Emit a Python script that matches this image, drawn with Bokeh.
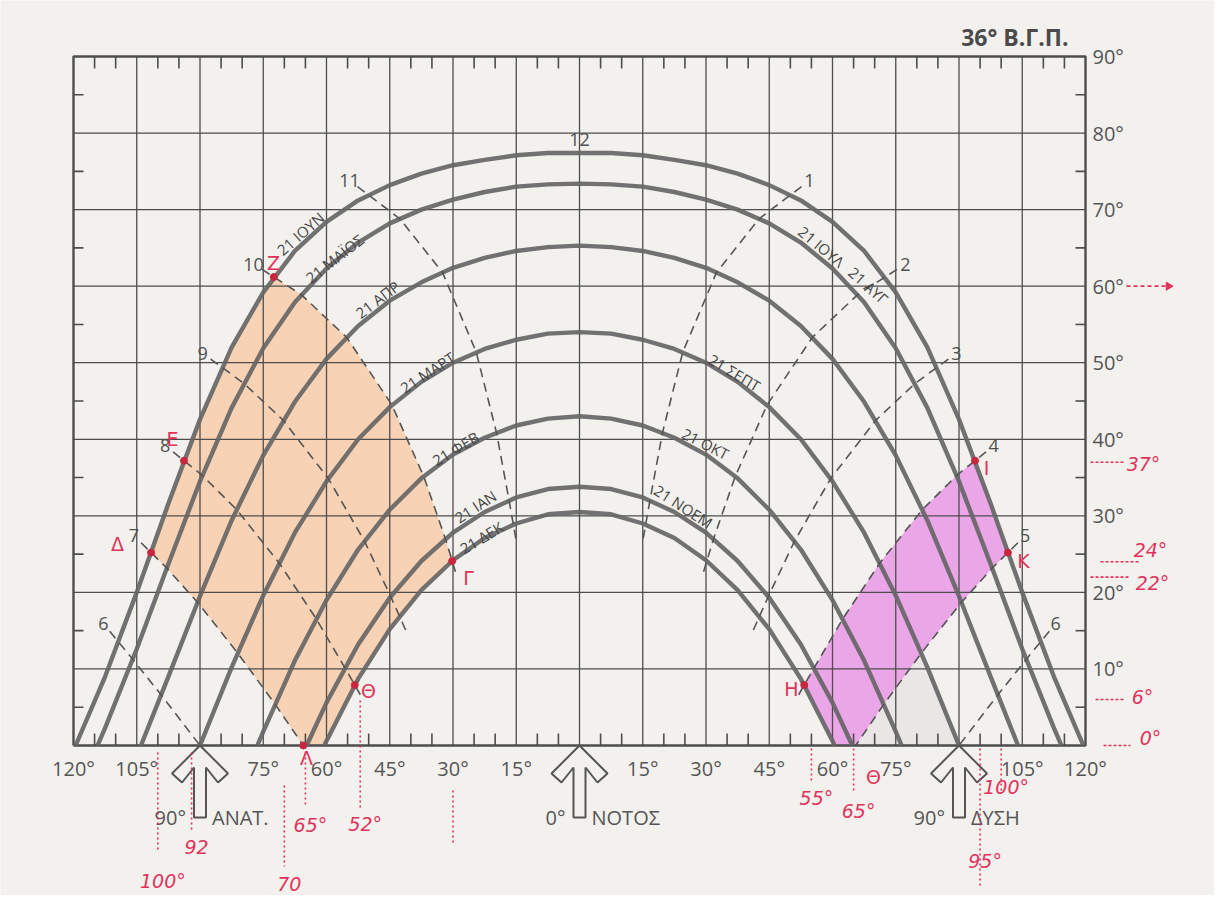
import math
from bokeh.plotting import figure
from bokeh.models import Range1d
from bokeh.core.properties import value
from bokeh.embed import file_html
from bokeh.resources import INLINE

# ---------------- data ----------------
# Sun paths, east half (azimuth from south, degrees) -> altitude (degrees); curves are symmetric.
AZ_GRID = [0, 7.5, 15, 22.5, 30, 37.5, 45, 52.5, 60, 67.5, 75, 82.5, 90, 97.5, 105, 112.5]
jun_alt = [77.4, 77.4, 77.1, 76.5, 75.8, 74.7, 73.2, 71.2, 68.4, 64.6, 59.2, 52.0, 42.6, 31.6, 20.0, 9.0]
jun_rise = 119.5
may_alt = [73.4, 73.3, 73.0, 72.3, 71.3, 70.0, 68.2, 65.7, 62.3, 57.9, 51.9, 44.1, 34.5, 23.7, 12.6, 2.3]
may_rise = 114.3
apr_alt = [65.3, 65.1, 64.6, 63.7, 62.4, 60.5, 58.1, 54.8, 50.5, 44.9, 37.9, 29.4, 19.5, 9.0]
apr_rise = 104.0
mar_alt = [54.0, 53.8, 53.0, 51.8, 50.0, 47.5, 44.2, 40.0, 34.5, 27.8, 19.6, 10.2]
mar_rise = 90.0
feb_alt = [43.0, 42.7, 41.8, 40.2, 38.0, 34.9, 30.8, 25.6, 19.0, 11.1, 1.8]
feb_rise = 76.4
jan_alt = [33.8, 33.5, 32.4, 30.5, 27.8, 24.1, 19.3, 13.2, 5.6]
jan_rise = 64.7
dec_alt = [30.5, 30.2, 29.0, 27.1, 24.2, 20.3, 15.2, 8.7, 0.6]
dec_rise = 60.5

# Hour lines (morning, east side), points ordered 21 June -> 21 Dec (or horizon)
HOURS_AM = [6, 7, 8, 9, 10, 11]
HOURS_PM = [6, 5, 4, 3, 2, 1]
h6_az = [109.3, 106.0, 99.2, 90.0]
h6_alt = [13.5, 11.3, 6.6, 0.0]
h7_az = [101.6, 97.9, 90.6, 81.1, 72.2, 65.5]
h7_alt = [25.2, 23.2, 18.7, 12.1, 5.4, 0.0]
h8_az = [93.8, 89.5, 81.3, 71.3, 62.5, 55.7, 53.3]
h8_alt = [37.2, 35.3, 30.8, 23.9, 16.6, 10.2, 7.9]
h9_az = [84.8, 79.6, 70.3, 59.6, 51.0, 44.8, 42.7]
h9_alt = [49.4, 47.3, 42.5, 34.9, 26.7, 19.5, 16.9]
h10_az = [72.5, 66.0, 55.2, 44.5, 36.9, 31.8, 30.2]
h10_alt = [61.2, 58.9, 53.3, 44.5, 35.1, 27.0, 24.1]
h11_az = [50.0, 42.6, 32.5, 24.5, 19.7, 16.7, 15.7]
h11_alt = [71.9, 68.8, 61.8, 51.4, 40.9, 32.0, 28.9]

X_TICKS = [-120, -105, -75, -60, -45, -30, -15, 15, 30, 45, 60, 75, 105, 120]
X_LABELS = [f"{abs(t)}°" for t in X_TICKS]
Y_TICKS = [10, 20, 30, 40, 50, 60, 70, 80, 90]
Y_LABELS = [f"{t}°" for t in Y_TICKS]
COMPASS_AZ = [-90, 0, 90]
COMPASS_DEG = ["90°", "0°", "90°"]
COMPASS_NAME = ["ΑΝΑΤ.", "ΝΟΤΟΣ", "ΔΥΣΗ"]
TITLE = "36° Β.Γ.Π."

# hand-written readings
ALT_NOTE_VALUES = [37, 24, 22, 6, 0]
ALT_NOTE_LABELS = ["37°", "24°", "22°", "6°", "0°"]
AZ_NOTE_VALUES = [-100, -92, -70, -65, -52, -30, 55, 65, 95, 100]
AZ_NOTE_LABELS = ["100°", "92", "70", "65°", "52°", "", "55°", "65°", "95°", "100°"]

# ---------------- geometry helpers (page pixels <-> data) ----------------
SX = 1012 / 240.0
SY = 689 / 90.0
X0, Y0 = 579.0, 745.0
W, H = 1214, 895
OFF = 0


def P(x, y):
    return (x - X0) / SX, (Y0 - y) / SY


def DY(px):
    return px / SY


def DX(px):
    return px / SX


PAPER = "#f3f1ee"
INK = "#4d4d4d"
CURVE = "#666666"
RED = "#e2325a"
FONT = value("Open Sans")

p = figure(width=W, height=H, output_backend="svg", toolbar_location=None,
           x_axis_location=None, y_axis_location=None, min_border=0,
           x_range=Range1d((OFF - X0) / SX, (OFF + W - X0) / SX),
           y_range=Range1d((Y0 - OFF - H) / SY, (Y0 - OFF) / SY))
p.title.visible = False
p.xgrid.visible = False
p.ygrid.visible = False
p.outline_line_color = None
p.background_fill_color = PAPER
p.border_fill_color = PAPER


def curve_pts(alt, rise):
    az = AZ_GRID[:len(alt)] + [rise]
    al = alt + [0.0]
    return az, al


curves = [curve_pts(jun_alt, jun_rise), curve_pts(may_alt, may_rise), curve_pts(apr_alt, apr_rise),
          curve_pts(mar_alt, mar_rise), curve_pts(feb_alt, feb_rise), curve_pts(jan_alt, jan_rise),
          curve_pts(dec_alt, dec_rise)]
hours = {6: (h6_az, h6_alt), 7: (h7_az, h7_alt), 8: (h8_az, h8_alt), 9: (h9_az, h9_alt),
         10: (h10_az, h10_alt), 11: (h11_az, h11_alt)}

# ---------------- coloured regions ----------------
jaz, jal = curves[0]
daz, dal = curves[6]
# orange: east, between 7h and 10h lines
ox, oy = [], []
ox.append(h7_az[0]); oy.append(h7_alt[0])
for a, h in sorted(zip(jaz, jal), key=lambda t: -t[0]):
    if h10_az[0] < a < h7_az[0]:
        ox.append(a); oy.append(h)
ox += h10_az; oy += h10_alt
for a, h in sorted(zip(daz, dal)):
    if a > h10_az[-1]:
        ox.append(a); oy.append(h)
ox += h7_az[::-1][:-1]; oy += h7_alt[::-1][:-1]
p.patch([-v for v in ox], oy, fill_color="#f8d2b4", line_color=None)

# magenta: west, between 4pm and 5pm lines
mx, my = list(h8_az[::-1]), list(h8_alt[::-1])
for a, h in sorted(zip(jaz, jal)):
    if h8_az[0] < a < h7_az[0]:
        mx.append(a); my.append(h)
mx += h7_az; my += h7_alt
for a, h in sorted(zip(daz, dal), key=lambda t: -t[0]):
    if a > h8_az[-1]:
        mx.append(a); my.append(h)
p.patch(mx, my, fill_color="#eba6e8", line_color=None)

# faint pencil shading next to it
maz, mal = curves[3]
gx, gy = [h7_az[-1]], [0.0]
gx += h7_az[::-1][1:3]; gy += h7_alt[::-1][1:3]
for a, h in sorted(zip(maz, mal)):
    if a > h7_az[3]:
        gx.append(a); gy.append(h)
p.patch(gx, gy, fill_color="#e2dfdf", fill_alpha=0.6, line_color=None)

# ---------------- grid, frame, ticks ----------------
vx = list(range(-105, 120, 15))
p.segment(x0=vx, y0=[0] * len(vx), x1=vx, y1=[90] * len(vx), line_color=INK, line_width=1.3)
hy = list(range(10, 90, 10))
p.segment(x0=[-120] * len(hy), y0=hy, x1=[120] * len(hy), y1=hy, line_color=INK, line_width=1.3)
p.multi_line(xs=[[-120, 120, 120, -120, -120]], ys=[[0, 0, 90, 90, 0]], line_color=INK, line_width=2.4)
mx_t = [t for t in range(-115, 120, 5) if t % 15 != 0]
tl = DY(12)
p.segment(x0=mx_t, y0=[0] * len(mx_t), x1=mx_t, y1=[tl] * len(mx_t), line_color=INK, line_width=1.6)
p.segment(x0=mx_t, y0=[90] * len(mx_t), x1=mx_t, y1=[90 - tl] * len(mx_t), line_color=INK, line_width=1.6)
my_t = list(range(5, 90, 10))
hl = DX(10)
p.segment(x0=[-120] * len(my_t), y0=my_t, x1=[-120 + hl] * len(my_t), y1=my_t, line_color=INK, line_width=1.6)
p.segment(x0=[120] * len(my_t), y0=my_t, x1=[120 - hl] * len(my_t), y1=my_t, line_color=INK, line_width=1.6)

# ---------------- sun path curves ----------------
cxs, cys = [], []
for az, al in curves:
    cxs.append([-a for a in az[::-1]] + az[1:])
    cys.append(al[::-1] + al[1:])
p.multi_line(xs=cxs, ys=cys, line_color=CURVE, line_width=4.4, line_alpha=0.92)

# ---------------- hour lines (dashed) ----------------


def extend(x1, y1, x2, y2, px):
    dx, dy = (x1 - x2) * SX, (y1 - y2) * SY
    n = math.hypot(dx, dy)
    return x1 + dx / n * px / SX, y1 + dy / n * px / SY


hxs, hys = [], []
for hr in HOURS_AM:
    az, al = hours[hr]
    xs, ys = list(az), list(al)
    sx, sy = extend(xs[0], ys[0], xs[1], ys[1], 14)
    xs.insert(0, sx); ys.insert(0, sy)
    if al[-1] > 0.5:
        ex, ey = extend(xs[-1], ys[-1], xs[-2], ys[-2], 16)
        xs.append(ex); ys.append(ey)
    hxs.append([-v for v in xs]); hys.append(ys)
    hxs.append(xs); hys.append(ys)
p.multi_line(xs=hxs, ys=hys, line_color="#555555", line_width=1.6, line_dash="9 6")

# hour numbers
lab_x, lab_y, lab_t = [], [], []
for hr, hp in zip(HOURS_AM, HOURS_PM):
    az, al = hours[hr]
    lx, ly = extend(az[0], al[0], az[1], al[1], 24)
    lab_x += [-lx, lx]; lab_y += [ly, ly]; lab_t += [str(hr), str(hp)]
lab_x.append(0); lab_y.append(jun_alt[0] + DY(13)); lab_t.append("12")
p.text(x=lab_x, y=lab_y, text=lab_t, text_font=FONT, text_font_size="18px", text_color="#505050",
       text_align="center", text_baseline="middle")

# date labels along curves (page-pixel placement, angle in degrees)
CURVE_TEXT = [("21 ΙΟΥΝ", 300, 233, 41), ("21 ΜΑΪΟΣ", 334, 258, 38), ("21 ΑΠΡ", 377, 299, 37),
              ("21 ΜΑΡΤ", 427, 372, 33), ("21 ΦΕΒ", 455, 448, 31), ("21 ΙΑΝ", 475, 506, 33),
              ("21 ΔΕΚ", 481, 537, 31), ("21 ΙΟΥΛ", 821, 246, -40), ("21 ΑΥΓ", 868, 285, -42),
              ("21 ΣΕΠΤ", 734, 372, -31), ("21 ΟΚΤ", 705, 443, -27), ("21 ΝΟΕΜ", 683, 506, -33)]
tx, ty, tt, ta = [], [], [], []
for s, x, y, a in CURVE_TEXT:
    dx_, dy_ = P(x, y)
    tx.append(dx_); ty.append(dy_); tt.append(s); ta.append(math.radians(a))
p.text(x=tx, y=ty, text=tt, angle=ta, text_font=FONT, text_font_size="15px", text_color="#474747",
       text_align="center", text_baseline="middle")

# ---------------- axis labels ----------------
p.text(x=X_TICKS, y=[DY(-23)] * len(X_TICKS), text=X_LABELS, text_font=FONT, text_font_size="20px",
       text_color="#555555", text_align="center", text_baseline="middle")
p.text(x=[120 + DX(7)] * len(Y_TICKS), y=Y_TICKS, text=Y_LABELS, text_font=FONT, text_font_size="20px",
       text_color="#555555", text_align="left", text_baseline="middle")
p.text(x=[P(1068, 0)[0]], y=[P(0, 36)[1]], text=[TITLE], text_font=FONT, text_font_size="23px",
       text_font_style="bold", text_color="#4a4a4a", text_align="right", text_baseline="middle")

# compass arrows
ARROW = [(0, 0), (28, 28), (18, 37), (6, 22), (6, 72), (-6, 72), (-6, 22), (-18, 37), (-28, 28)]
axs, ays = [], []
for c in COMPASS_AZ:
    axs.append([c + DX(dx) for dx, dy in ARROW])
    ays.append([-DY(dy) for dx, dy in ARROW])
p.patches(xs=axs, ys=ays, fill_color=PAPER, line_color="#555555", line_width=2)
p.text(x=[c - DX(14) for c in COMPASS_AZ], y=[DY(-72)] * 3, text=COMPASS_DEG, text_font=FONT,
       text_font_size="20px", text_color="#555555", text_align="right", text_baseline="middle")
p.text(x=[c + DX(12) for c in COMPASS_AZ], y=[DY(-72)] * 3, text=COMPASS_NAME, text_font=FONT,
       text_font_size="20px", text_color="#555555", text_align="left", text_baseline="middle")

# ---------------- red hand annotations ----------------
pts = [(-h10_az[0], h10_alt[0]), (-h8_az[0], h8_alt[0]), (-h7_az[0], h7_alt[0]), (-h10_az[-1], h10_alt[-1]),
       (-h8_az[-1], h8_alt[-1]), (-h7_az[-1], h7_alt[-1]), (h8_az[-1], h8_alt[-1]), (h8_az[0], h8_alt[0]),
       (h7_az[0], h7_alt[0])]
p.scatter(x=[a for a, b in pts], y=[b for a, b in pts], size=7, color="#c8283f")
RED_LETTERS = [("Ζ", 273, 262), ("Ε", 172, 438), ("Δ", 117, 543), ("Γ", 468, 577), ("Θ", 368, 690),
               ("Λ", 306, 757), ("Η", 791, 688), ("Ι", 986, 467), ("Κ", 1023, 560), ("Θ", 873, 776)]
rx, ry = zip(*[P(x, y) for s, x, y in RED_LETTERS])
p.text(x=list(rx), y=list(ry), text=[s for s, x, y in RED_LETTERS], text_font=value("DejaVu Sans"),
       text_font_size="19px", text_color=RED, text_align="center", text_baseline="middle")

# altitude readings (right side)
ALT_LINE = [(1090, 1125), (1100, 1140), (1090, 1130), (1095, 1125), (1103, 1130)]
ALT_TEXT_X = [1143, 1150, 1152, 1142, 1150]
ALT_TEXT_DY = [2, -12, 6, -3, -8]
for v, lab, (a, b), tx_, tdy in zip(ALT_NOTE_VALUES, ALT_NOTE_LABELS, ALT_LINE, ALT_TEXT_X, ALT_TEXT_DY):
    p.line([P(a, 0)[0], P(b, 0)[0]], [v, v], line_color=RED, line_width=1.6, line_dash="3 2")
    p.text(x=[P(tx_, 0)[0]], y=[v - DY(tdy)], text=[lab], text_font=value("DejaVu Sans"),
           text_font_style="italic", text_font_size="19px", text_color=RED, text_align="center",
           text_baseline="middle")
# arrow after 60°
p.line([P(1126, 0)[0], P(1165, 0)[0]], [60, 60], line_color=RED, line_width=1.6, line_dash="4 3")
p.scatter(x=[P(1168, 0)[0]], y=[60], marker="triangle", angle=-math.pi / 2, size=8, color=RED)

# azimuth readings (below the chart)
AZ_LINE = [(752, 850), (752, 832), (785, 866), (752, 805), (700, 808), (790, 842), (748, 782), (748, 792),
           (748, 886), (748, 792)]
AZ_TEXT_Y = [880, 846, 883, 824, 823, 0, 797, 810, 860, 786]
for v, lab, (a, b), ty_ in zip(AZ_NOTE_VALUES, AZ_NOTE_LABELS, AZ_LINE, AZ_TEXT_Y):
    p.line([v, v], [P(0, a)[1], P(0, b)[1]], line_color=RED, line_width=1.6, line_dash="2 3")
    if lab:
        p.text(x=[v + DX(5)], y=[P(0, ty_)[1]], text=[lab], text_font=value("DejaVu Sans"),
               text_font_style="italic", text_font_size="19px", text_color=RED, text_align="center",
               text_baseline="middle")

open("out.html", "w").write(file_html(p, INLINE))
